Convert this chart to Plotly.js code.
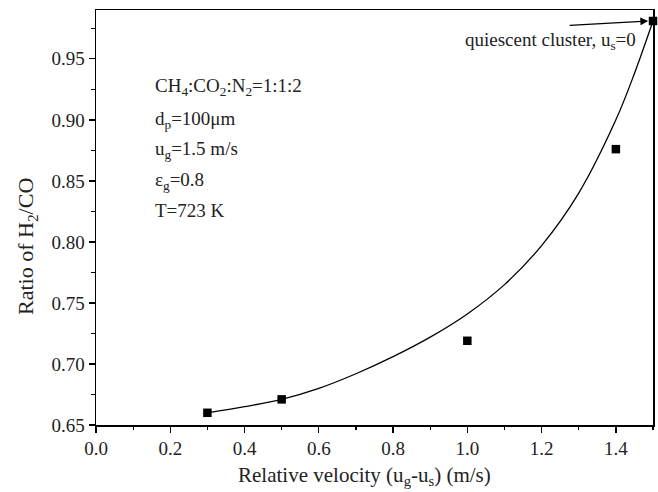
<!DOCTYPE html>
<html>
<head>
<meta charset="utf-8">
<script src="https://cdn.plot.ly/plotly-3.0.1.min.js"></script>
<style>
  html, body { margin: 0; padding: 0; background: #fff; }
  #chart { width: 658px; height: 492px; }
</style>
</head>
<body>
<div id="chart"></div>
<script>
// Simulated H2/CO ratio against gas-solid relative velocity
const velocity = [0.3, 0.5, 1.0, 1.4, 1.5];
const ratio = [0.660, 0.671, 0.719, 0.876, 0.981];

// Fitted trend line
const fitVelocity = [0.30, 0.40, 0.50, 0.60, 0.70, 0.80, 0.90, 1.00, 1.10, 1.20, 1.30, 1.40, 1.45, 1.50];
const fitRatio    = [0.660, 0.665, 0.671, 0.680, 0.692, 0.706, 0.722, 0.741, 0.765, 0.797, 0.840, 0.900, 0.938, 0.981];

const xTickVals = [0.0, 0.2, 0.4, 0.6, 0.8, 1.0, 1.2, 1.4];
const xTickText = ['0.0', '0.2', '0.4', '0.6', '0.8', '1.0', '1.2', '1.4'];
const yTickVals = [0.65, 0.70, 0.75, 0.80, 0.85, 0.90, 0.95];
const yTickText = ['0.65', '0.70', '0.75', '0.80', '0.85', '0.90', '0.95'];

// Operating conditions listed inside the plot
const conditionLines = [
  'CH<sub>4</sub>:CO<sub>2</sub>:N<sub>2</sub>=1:1:2',
  'd<sub>p</sub>=100μm',
  'u<sub>g</sub>=1.5 m/s',
  'ε<sub>g</sub>=0.8',
  'T=723 K'
];

const serif = 'Liberation Serif, Times New Roman, serif';
const ink = '#222';

const traces = [
  {
    x: fitVelocity, y: fitRatio, type: 'scatter', mode: 'lines',
    line: { color: '#000', width: 1.3, shape: 'spline', smoothing: 1.0 },
    hoverinfo: 'skip'
  },
  {
    x: velocity, y: ratio, type: 'scatter', mode: 'markers',
    marker: { symbol: 'square', size: 8.5, color: '#000' },
    cliponaxis: false
  }
];

const axisCommon = {
  showgrid: false, zeroline: false,
  showline: true, linecolor: '#000', linewidth: 1.5, mirror: true,
  ticks: 'outside', ticklen: 6, tickwidth: 1.3, tickcolor: '#000',
  tickfont: { family: serif, size: 19, color: ink }
};

// Condition lines as separate annotations for wider line spacing
const plotTop = 10, plotH = 415;
const lineCenters = [87, 120, 150, 181, 210];
const conditionAnnotations = conditionLines.map((t, i) => ({
  xref: 'paper', yref: 'paper',
  x: (153 - 96) / 557, y: 1 - (lineCenters[i] - plotTop) / plotH,
  xanchor: 'left', yanchor: 'middle', align: 'left', showarrow: false,
  font: { family: serif, size: 19, color: ink },
  text: t
}));

const layout = {
  width: 658, height: 492,
  margin: { l: 96, r: 5, t: 10, b: 67 },
  paper_bgcolor: '#fff', plot_bgcolor: '#fff',
  showlegend: false,
  xaxis: Object.assign({}, axisCommon, {
    range: [0, 1.5],
    tickmode: 'array', tickvals: xTickVals, ticktext: xTickText,
    minor: { dtick: 0.1, tick0: 0, ticks: 'outside', ticklen: 3.5, tickwidth: 1.2, tickcolor: '#000' }
  }),
  yaxis: Object.assign({}, axisCommon, {
    range: [0.65, 0.99],
    tickmode: 'array', tickvals: yTickVals, ticktext: yTickText,
    minor: { dtick: 0.025, tick0: 0.65, ticks: 'outside', ticklen: 3.5, tickwidth: 1.2, tickcolor: '#000' }
  }),
  annotations: conditionAnnotations.concat([
    {
      xref: 'paper', yref: 'paper', x: (364 - 96) / 557, y: 1 - (476 - plotTop) / plotH,
      xanchor: 'center', yanchor: 'middle', showarrow: false,
      font: { family: serif, size: 21, color: ink },
      text: 'Relative velocity (u<sub>g</sub>-u<sub>s</sub>) (m/s)'
    },
    {
      xref: 'paper', yref: 'paper', x: (27 - 96) / 557, y: 1 - (247 - plotTop) / plotH,
      xanchor: 'center', yanchor: 'middle', showarrow: false, textangle: -90,
      font: { family: serif, size: 22, color: ink },
      text: 'Ratio of H<sub>2</sub>/CO'
    },
    {
      xref: 'paper', yref: 'paper', x: (638 - 96) / 557, y: 1 - (41 - plotTop) / plotH,
      xanchor: 'right', yanchor: 'middle', showarrow: false,
      font: { family: serif, size: 19, color: ink },
      text: 'quiescent cluster, u<sub>s</sub>=0'
    },
    {
      xref: 'x', yref: 'y', x: 1.487, y: 0.981,
      ax: -80, ay: 4.5,
      showarrow: true, arrowhead: 2, arrowsize: 1.2, arrowwidth: 1.3, arrowcolor: '#000',
      standoff: 0, text: ''
    }
  ])
};

Plotly.newPlot('chart', traces, layout, { displayModeBar: false, staticPlot: true });
</script>
</body>
</html>
